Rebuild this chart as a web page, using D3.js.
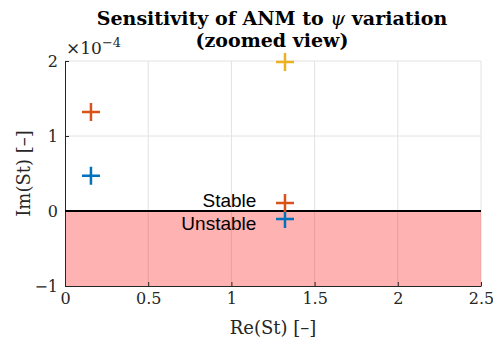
<!DOCTYPE html>
<html>
<head>
<meta charset="utf-8">
<script src="https://cdn.jsdelivr.net/npm/d3@7"></script>
<style>
body { margin: 0; background: #fff; }
</style>
</head>
<body>
<svg width="493" height="342"></svg>
<script>
// data (Im values in units of 1e-4)
var reBlue = [0.156, 1.322];
var imBlue = [0.47, -0.107];
var reOrange = [0.156, 1.322];
var imOrange = [1.32, 0.107];
var reYellow = [1.322];
var imYellow = [1.987];
var xTicks = [0, 0.5, 1, 1.5, 2, 2.5];
var yTicks = [-1, 0, 1, 2];

var colors = { blue: '#0072BD', orange: '#D95319', yellow: '#EDB120' };

var svg = d3.select('svg');
var margin = { top: 61, right: 12, bottom: 56, left: 65 };
var width = +svg.attr('width') - margin.left - margin.right;
var height = +svg.attr('height') - margin.top - margin.bottom;
var g = svg.append('g').attr('transform', `translate(${margin.left}, ${margin.top})`);

var serif = '"DejaVu Serif", serif';
var sans = '"Liberation Sans", Arial, sans-serif';

var x = d3.scaleLinear().domain([0, 2.5]).range([0, width]);
var y = d3.scaleLinear().domain([-1, 2]).range([height, 0]);

// grid
g.append('g').selectAll('line').data(xTicks.slice(1)).join('line')
	.attr('x1', d => x(d)).attr('x2', d => x(d))
	.attr('y1', 0).attr('y2', height)
	.attr('stroke', '#e2e2e2');
g.append('g').selectAll('line').data(yTicks.slice(1)).join('line')
	.attr('x1', 0).attr('x2', width)
	.attr('y1', d => y(d)).attr('y2', d => y(d))
	.attr('stroke', '#e2e2e2');

// unstable region
g.append('rect')
	.attr('x', x(0)).attr('y', y(0))
	.attr('width', x(2.5) - x(0)).attr('height', y(-1) - y(0))
	.attr('fill', '#ff0000').attr('fill-opacity', 0.3);

// axes
var xAxis = d3.axisBottom(x).tickValues(xTicks).tickSizeInner(-4).tickSizeOuter(0)
	.tickFormat(d3.format('~g'));
var yAxis = d3.axisLeft(y).tickValues(yTicks).tickSizeInner(-4).tickSizeOuter(0)
	.tickFormat(d => d < 0 ? '\u2212' + Math.abs(d) : d);

g.append('g').attr('transform', `translate(0,${height})`).call(customAxis, xAxis, 'x');
g.append('g').call(customAxis, yAxis, 'y');

function customAxis(sel, axis, which) {
	sel.call(axis);
	sel.attr('font-family', serif).attr('font-size', 16);
	sel.select('.domain').attr('stroke', '#262626');
	sel.selectAll('.tick line').attr('stroke', '#262626');
	sel.selectAll('.tick text').attr('fill', '#262626');
	if (which === 'x') sel.selectAll('.tick text').attr('y', 7);
	else sel.selectAll('.tick text').attr('x', -7);
}

// zero line
g.append('line')
	.attr('x1', 0).attr('x2', width)
	.attr('y1', y(0)).attr('y2', y(0))
	.attr('stroke', '#000').attr('stroke-width', 1.8);

// region labels
g.append('text').attr('x', x(1.15)).attr('y', y(0) - 4)
	.attr('text-anchor', 'end').attr('font-family', sans)
	.attr('font-size', 19).text('Stable');
g.append('text').attr('x', x(1.15)).attr('y', y(0) + 19)
	.attr('text-anchor', 'end').attr('font-family', sans)
	.attr('font-size', 19).text('Unstable');

// markers
function plus(sel, xs, ys, color) {
	var pts = xs.map((v, i) => [v, ys[i]]);
	var s = 9;
	sel.append('g').selectAll('path').data(pts).join('path')
		.attr('d', d => `M${x(d[0]) - s},${y(d[1])}H${x(d[0]) + s}M${x(d[0])},${y(d[1]) - s}V${y(d[1]) + s}`)
		.attr('stroke', color).attr('stroke-width', 2.5).attr('fill', 'none');
}
plus(g, reBlue, imBlue, colors.blue);
plus(g, reOrange, imOrange, colors.orange);
plus(g, reYellow, imYellow, colors.yellow);

// exponent
var ex = svg.append('text').attr('x', 66).attr('y', 54)
	.attr('font-family', serif).attr('font-size', 17).attr('fill', '#262626');
ex.append('tspan').text('\u00d710');
ex.append('tspan').attr('dy', -7).attr('font-size', 13).text('\u22124');

// axis labels
svg.append('text').attr('x', margin.left + width / 2).attr('y', 334)
	.attr('text-anchor', 'middle').attr('font-family', serif).attr('font-size', 18)
	.attr('fill', '#262626').text('Re(St) [\u2013]');
svg.append('text').attr('transform', `translate(30,${margin.top + height / 2}) rotate(-90)`)
	.attr('text-anchor', 'middle').attr('font-family', serif).attr('font-size', 18)
	.attr('fill', '#262626').text('Im(St) [\u2013]');

// title
var t = svg.append('text').attr('x', 272).attr('y', 25)
	.attr('text-anchor', 'middle').attr('font-family', serif).attr('font-weight', 'bold')
	.attr('font-size', 19);
t.append('tspan').text('Sensitivity of ANM to ');
t.append('tspan').attr('font-style', 'italic').attr('font-weight', 'normal').text('\u03c8');
t.append('tspan').text(' variation');
svg.append('text').attr('x', 272).attr('y', 47)
	.attr('text-anchor', 'middle').attr('font-family', serif).attr('font-weight', 'bold')
	.attr('font-size', 19).text('(zoomed view)');
</script>
</body>
</html>
